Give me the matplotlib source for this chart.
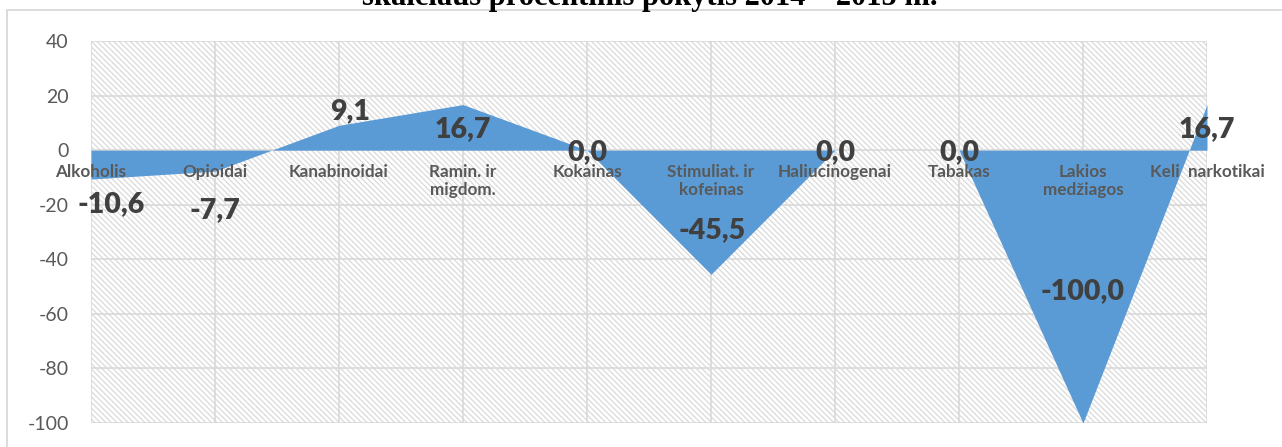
import matplotlib
matplotlib.use("Agg")
import matplotlib.pyplot as plt
from matplotlib.patches import Rectangle

categories = ["Alkoholis", "Opioidai", "Kanabinoidai", "Ramin. ir\nmigdom.", "Kokainas",
              "Stimuliat. ir\nkofeinas", "Haliucinogenai", "Tabakas", "Lakios\nmedžiagos",
              "Keli  narkotikai"]
values = [-10.6, -7.7, 9.1, 16.7, 0.0, -45.5, 0.0, 0.0, -100.0, 16.7]
value_labels = ["-10,6", "-7,7", "9,1", "16,7", "0,0", "-45,5", "0,0", "0,0", "-100,0", "16,7"]
y_ticks = [40, 20, 0, -20, -40, -60, -80, -100]
y_tick_labels = ["40", "20", "0", "-20", "-40", "-60", "-80", "-100"]
title = "skaičiaus procentinis pokytis 2014 – 2015 m."

# label offsets (pixels, baseline of text relative to data point)
label_offsets = [(20, -33), (0, -47), (11, 6), (0, -33), (0, -10),
                 (1, 36), (0, -10), (0, -10), (-1, 124), (0, -33)]

plt.rcParams['axes.unicode_minus'] = False
plt.rcParams['hatch.linewidth'] = 0.9

W, H = 1282, 447
fig = plt.figure(figsize=(W / 100, H / 100), dpi=100)
ax = fig.add_axes([91 / W, 1 - 423 / H, (1207 - 91) / W, (423 - 41) / H])

x = list(range(len(categories)))
ax.set_xlim(0, len(categories) - 1)
ax.set_ylim(-100, 40)

# hatched background
bg = Rectangle((0, 0), 1, 1, transform=ax.transAxes, facecolor='white',
               edgecolor='#dadada', linewidth=0, hatch='\\' * 6, zorder=0)
ax.add_patch(bg)

ax.fill_between(x, values, 0, color='#5B9BD5', linewidth=0, zorder=1)

ax.set_axisbelow(True)
ax.set_xticks(x)
ax.set_xticklabels([])
ax.set_yticks(y_ticks)
ax.set_yticklabels(y_tick_labels, fontfamily='Lato', fontsize=14, color='#595959')
ax.tick_params(axis='both', length=0)
ax.tick_params(axis='y', pad=16)
ax.grid(True, color='#d9d9d9', linewidth=1.2)
for s in ax.spines.values():
    s.set_visible(False)

for xi, cat in zip(x, categories):
    ax.annotate(cat, (xi, 0), xytext=(0, -14), textcoords='offset pixels',
                ha='center', va='top', multialignment='center',
                fontfamily='Lato', fontweight='bold', fontsize=12.3, color='#595959',
                linespacing=1.15, zorder=5, annotation_clip=False)

for xi, v, lab, (dx, dy) in zip(x, values, value_labels, label_offsets):
    ax.annotate(lab, (xi, v), xytext=(dx, dy), textcoords='offset pixels',
                ha='center', va='baseline', fontfamily='Lato', fontweight='heavy',
                fontsize=20.5, color='#404040', zorder=6, annotation_clip=False)

# outer chart border (cropped)
fig.add_artist(Rectangle((7 / W, -0.1), 2, 1.1 - 9.5 / H, transform=fig.transFigure,
                         fill=False, edgecolor='#d9d9d9', linewidth=1.3))

fig.text(650 / W, 1 - 5 / H, title, ha='center', va='baseline',
         fontfamily='Liberation Serif', fontweight='bold', fontsize=22, color='black')

fig.savefig('out.png', dpi=100)
